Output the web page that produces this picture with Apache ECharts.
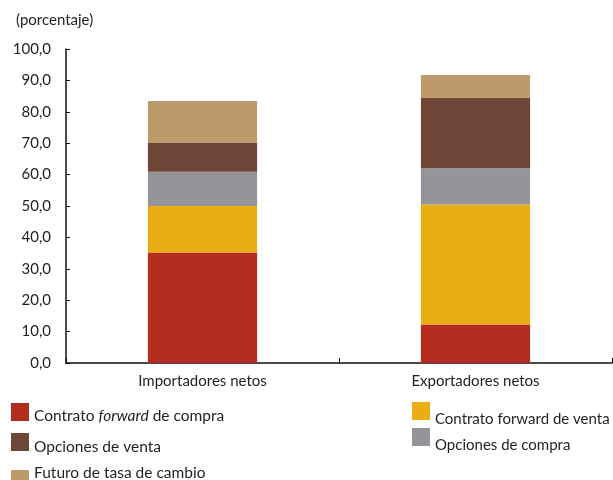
<!DOCTYPE html>
<html>
<head>
<meta charset="utf-8">
<script src="https://cdn.jsdelivr.net/npm/echarts@6/dist/echarts.min.js"></script>
<style>
  html, body { margin: 0; padding: 0; background: #fff; }
  #chart { width: 613px; height: 480px; }
</style>
</head>
<body>
<div id="chart"></div>
<script>
// Categories on the x axis
const categories = ['Importadores netos', 'Exportadores netos'];

// Stacked shares (percent) per instrument, bottom to top
const forwardCompra = [35.2, 12.3];
const forwardVenta  = [14.8, 38.2];
const opcionesCompra = [10.9, 11.5];
const opcionesVenta  = [9.3, 22.4];
const futuroTasa     = [13.2, 7.3];

// Y-axis tick range
const yMin = 0, yMax = 100, yStep = 10;

const FONT = 'Lato';
const TXT = '#231f20';

const seriesDefs = [
  { name: 'Contrato forward de compra', data: forwardCompra, color: '#b22d1e' },
  { name: 'Contrato forward de venta', data: forwardVenta, color: '#e9ae13' },
  { name: 'Opciones de compra', data: opcionesCompra, color: '#939598' },
  { name: 'Opciones de venta', data: opcionesVenta, color: '#6e4638' },
  { name: 'Futuro de tasa de cambio', data: futuroTasa, color: '#bd9a6a' }
];

// One legend entry per component so each can be placed on its own.
// opts.textOnly hides the swatch, opts.swatchOnly hides the label.
function legendItem(name, left, top, pad, size, opts) {
  opts = opts || {};
  const p = pad;
  const legend = {
    orient: 'vertical', left: left, top: top, height: 60, padding: 0,
    itemWidth: 18, itemHeight: 18, icon: 'rect',
    data: [name],
    selectedMode: false,
    formatter: function (n) {
      if (opts.swatchOnly) return '';
      if (n === 'Contrato forward de compra') {
        return '{n|Contrato }{i|forward}{n| de compra}';
      }
      return '{n|' + n + '}';
    },
    textStyle: {
      fontFamily: FONT, fontSize: size, color: TXT,
      rich: {
        n: { fontFamily: FONT, fontSize: size, color: TXT, padding: p },
        i: { fontFamily: FONT, fontSize: size, color: TXT, fontStyle: 'italic', padding: p }
      }
    }
  };
  if (opts.textOnly) legend.itemStyle = { opacity: 0 };
  return legend;
}

const chart = echarts.init(document.getElementById('chart'), null, { renderer: 'canvas' });
chart.setOption({
  animation: false,
  textStyle: { fontFamily: FONT },
  title: {
    text: '(porcentaje)',
    left: 11, top: 8,
    textStyle: { fontFamily: FONT, fontSize: 15, fontWeight: 'normal', color: TXT }
  },
  grid: { left: 66, right: 1, top: 49, bottom: 117, containLabel: false },
  legend: [
    legendItem('Contrato forward de compra', 11, 403, [7, 0, 0, 0], 15.5),
    legendItem('Opciones de venta', 11, 433, [9, 0, 0, 0], 15.5),
    legendItem('Futuro de tasa de cambio', 11, 470, [0, 0, 0, 0], 15.5, { swatchOnly: true }),
    legendItem('Futuro de tasa de cambio', 11, 464, [0, 0, 0, 0], 15.5, { textOnly: true }),
    legendItem('Contrato forward de venta', 412, 402, [16, 0, 0, 0], 15),
    legendItem('Opciones de compra', 412, 428, [17, 0, 0, 0], 15)
  ],
  xAxis: {
    type: 'category',
    data: categories,
    boundaryGap: true,
    axisLine: { lineStyle: { color: '#111', width: 1.5 } },
    axisTick: { show: true, inside: true, length: 5, lineStyle: { color: '#111' } },
    axisLabel: { fontFamily: FONT, fontSize: 15, color: TXT, margin: 11 }
  },
  yAxis: {
    type: 'value',
    min: yMin, max: yMax, interval: yStep,
    axisLine: { show: true, lineStyle: { color: '#111', width: 1.5 } },
    axisTick: { show: true, inside: true, length: 4, lineStyle: { color: '#111' } },
    splitLine: { show: false },
    axisLabel: {
      fontFamily: FONT, fontSize: 15, color: TXT, margin: 15,
      formatter: function (v) { return v.toFixed(1).replace('.', ','); }
    }
  },
  series: seriesDefs.map(function (s) {
    return {
      name: s.name,
      type: 'bar',
      stack: 'total',
      barWidth: '40%',
      data: s.data,
      itemStyle: { color: s.color },
      emphasis: { disabled: true }
    };
  })
});
</script>
</body>
</html>
